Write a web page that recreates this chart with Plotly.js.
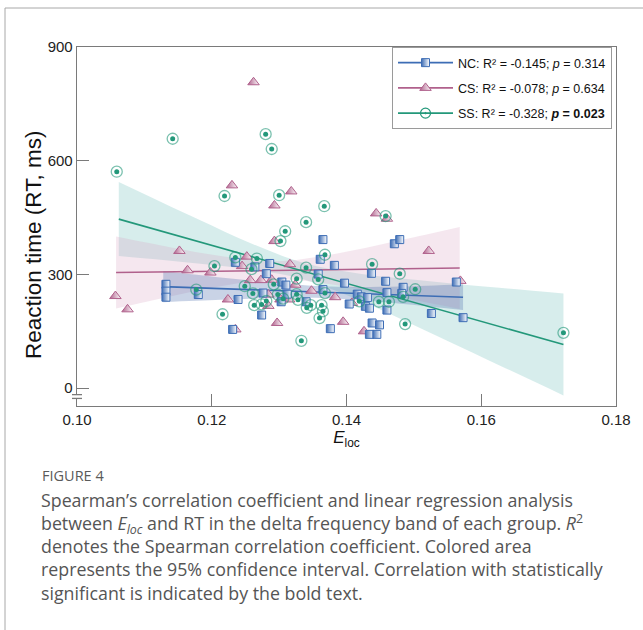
<!DOCTYPE html>
<html><head><meta charset="utf-8">
<script src="https://cdn.plot.ly/plotly-3.0.1.min.js"></script>
<style>html,body{margin:0;padding:0;background:#fff}#chart{width:643px;height:630px}</style>
</head><body><div id="chart"></div>
<script>
// ---------- data ----------
const ncX = [0.1132,0.1132,0.1132,0.1180,0.1235,0.1264,0.1286,0.1361,0.1365,0.1471,0.1479,0.1281,0.1358,0.1382,0.1437,0.1304,0.1310,0.1276,0.1365,0.1312,0.1397,0.1458,0.1484,0.1563,0.1482,0.1460,0.1416,0.1422,0.1431,0.1239,0.1303,0.1340,0.1404,0.1428,0.1434,0.1460,0.1526,0.1573,0.1274,0.1376,0.1231,0.1438,0.1449,0.1434,0.1445];
const ncY = [274,256,240,247,332,320,329,340,392,381,392,302,301,324,303,280,272,251,260,248,277,282,266,280,250,252,248,241,239,234,228,228,222,216,211,206,197,186,193,157,155,172,167,142,142];

const csX = [0.1262,0.1230,0.1318,0.1293,0.1444,0.1460,0.1293,0.1152,0.1252,0.1245,0.1522,0.1164,0.1198,0.1316,0.1257,0.1273,0.1289,0.1324,0.1284,0.1348,0.1569,0.1383,0.1224,0.1302,0.1315,0.1408,0.1284,0.1395,0.1297,0.1426,0.1235,0.1057,0.1075];
const csY = [807,535,519,482,461,447,388,362,347,322,362,311,305,327,285,285,286,273,247,257,283,240,234,234,234,225,217,175,172,150,155,243,208];

const ssX = [0.1059,0.1142,0.1280,0.1289,0.1219,0.1300,0.1367,0.1340,0.1309,0.1302,0.1235,0.1267,0.1204,0.1259,0.1368,0.1340,0.1438,0.1326,0.1358,0.1479,0.1249,0.1292,0.1177,0.1261,0.1368,0.1502,0.1298,0.1326,0.1281,0.1328,0.1306,0.1419,0.1448,0.1463,0.1484,0.1263,0.1274,0.1341,0.1347,0.1363,0.1365,0.1216,0.1360,0.1487,0.1333,0.1722,0.1458];
const ssY = [571,658,670,631,507,509,480,438,414,388,345,342,322,314,352,318,327,289,287,302,269,274,260,250,251,261,247,248,230,233,236,229,228,228,241,219,221,212,219,219,203,195,185,169,125,146,454];

// regression lines (end points)
const ncFitX = [0.1128,0.1573], ncFitY = [268,240];
const csFitX = [0.1058,0.1568], csFitY = [305,317];
const ssFitX = [0.1062,0.1722], ssFitY = [446,115];

// 95% confidence bands (read at several x positions)
const ncBandX  = [0.1128,0.1213,0.1302,0.1376,0.1480,0.1573];
const ncBandHi = [309,292,277,268,268,274];
const ncBandLo = [227,233,238,237,223,206];
const csBandX  = [0.1058,0.1138,0.1213,0.1296,0.1376,0.1480,0.1568];
const csBandHi = [400,372,349,335,352,390,425];
const csBandLo = [210,242,269,287,274,240,209];
const ssBandX  = [0.1062,0.1124,0.1183,0.1257,0.1337,0.1420,0.1509,0.1613,0.1722];
const ssBandHi = [544,492,443,383,330,302,285,267,250];
const ssBandLo = [349,339,328,313,287,231,159,72,-19];

const groupNames = [
  'NC: R² = -0.145; <i>p</i> = 0.314',
  'CS: R² = -0.078; <i>p</i> = 0.634',
  'SS: R² = -0.328; <b><i>p</i> = 0.023</b>'
];
const xTicks = [0.10,0.12,0.14,0.16,0.18];
const xTickLabels = ['0.10','0.12','0.14','0.16','0.18'];
const yTicks = [0,300,600,900];
const yTickLabels = ['0','300','600','900'];
const xTitle = '<i>E</i><sub>loc</sub>';
const yTitle = 'Reaction time (RT, ms)';

const captionTitle = 'FIGURE 4';
const captionLines = [
  'Spearman’s correlation coefficient and linear regression analysis',
  'between <i>E<sub>loc</sub></i> and RT in the delta frequency band of each group. <i>R</i><sup>2</sup>',
  'denotes the Spearman correlation coefficient. Colored area',
  'represents the 95% confidence interval. Correlation with statistically',
  'significant is indicated by the bold text.'
];

// ---------- styling ----------
const NC = '#3d6db5', CS = '#b0618c', SS = '#23987a';
const axisCol = '#7a7a7a';

const ncMarker = {symbol:'square', size:8, color:NC, gradient:{type:'horizontal', color:'#ffffff'}, line:{color:NC, width:1}};
const csMarker = {symbol:'triangle-up', size:10, color:CS, gradient:{type:'horizontal', color:'#ffffff'}, line:{color:CS, width:1}};
const ssLegendMarker = {symbol:'circle-open-dot', size:10, color:SS, line:{width:1.2}};
const ssRing = {symbol:'circle-open', size:11, color:'rgba(35,152,122,0.6)', line:{width:1.3}};
const ssDot  = {symbol:'circle', size:5, color:SS, line:{width:0}};

function band(x, lo, hi, fill) {
  return [
    {x:x, y:lo, mode:'lines', line:{width:0, shape:'spline'}, hoverinfo:'skip', showlegend:false},
    {x:x, y:hi, mode:'lines', line:{width:0, shape:'spline'}, fill:'tonexty', fillcolor:fill, hoverinfo:'skip', showlegend:false}
  ];
}
function fitLine(x, y, col, marker, name, grp) {
  return {x:x, y:y, mode:'lines+markers', name:name, legendgroup:grp, line:{color:col, width:1.6},
          marker:marker, selectedpoints:[], unselected:{marker:{opacity:0}}, hoverinfo:'skip'};
}
function pts(x, y, marker, grp) {
  return {x:x, y:y, mode:'markers', marker:marker, legendgroup:grp, showlegend:false};
}

const traces = [].concat(
  band(ssBandX, ssBandLo, ssBandHi, 'rgba(110,190,185,0.28)'),
  band(csBandX, csBandLo, csBandHi, 'rgba(215,160,190,0.25)'),
  band(ncBandX, ncBandLo, ncBandHi, 'rgba(90,120,180,0.33)'),
  [
    fitLine(ncFitX, ncFitY, NC, ncMarker, groupNames[0], 'nc'),
    fitLine(csFitX, csFitY, CS, csMarker, groupNames[1], 'cs'),
    fitLine(ssFitX, ssFitY, SS, ssLegendMarker, groupNames[2], 'ss'),
    pts(csX, csY, csMarker, 'cs'),
    pts(ncX, ncY, ncMarker, 'nc'),
    pts(ssX, ssY, ssRing, 'ss'),
    pts(ssX, ssY, ssDot, 'ss')
  ]
);

// pixel helpers for page-level decoration (outside the plot area)
const W = 643, H = 630, mL = 77, mR = 27, mT = 47, mB = 224;
const pw = W - mL - mR, ph = H - mT - mB;
const px2x = p => (p - mL) / pw;
const py2y = p => (H - mB - p) / ph;

const capFont = 'Open Sans, Noto Sans, sans-serif';
const annotations = [
  {text:yTitle, xref:'paper', yref:'paper', x:px2x(33), y:py2y(245), xanchor:'center', yanchor:'middle', textangle:-90,
   showarrow:false, font:{family:'Liberation Sans, Arial, sans-serif', size:22.5, color:'#111'}},
  {text:captionTitle, xref:'paper', yref:'paper', x:px2x(40), y:py2y(475), xanchor:'left', yanchor:'middle',
   showarrow:false, font:{family:capFont, size:14.5, color:'#5a5a5a'}},
  {text:captionLines.join('<br>'), xref:'paper', yref:'paper', x:px2x(39), y:py2y(486), xanchor:'left', yanchor:'top',
   align:'left', showarrow:false, font:{family:capFont, size:17.8, color:'#555555'}}
];

const shapes = [
  // page frame
  {type:'line', xref:'paper', yref:'paper', x0:px2x(5), x1:px2x(660), y0:py2y(8), y1:py2y(8), line:{color:'#a8a8a8', width:1}},
  {type:'line', xref:'paper', yref:'paper', x0:px2x(5), x1:px2x(5), y0:py2y(8), y1:py2y(640), line:{color:'#a8a8a8', width:1}},
  // y-axis break marks
  {type:'rect', xref:'paper', yref:'y', x0:px2x(72), x1:px2x(82), y0:-26, y1:-18, fillcolor:'#ffffff', line:{width:0}, layer:'above'},
  {type:'line', xref:'paper', yref:'y', x0:px2x(72), x1:px2x(82), y0:-17, y1:-17, line:{color:axisCol, width:1.3}, layer:'above'},
  {type:'line', xref:'paper', yref:'y', x0:px2x(72), x1:px2x(82), y0:-27, y1:-27, line:{color:axisCol, width:1.3}, layer:'above'}
];

const layout = {
  width:W, height:H,
  margin:{l:mL, r:mR, t:mT, b:mB, pad:0},
  paper_bgcolor:'#ffffff', plot_bgcolor:'#ffffff',
  font:{family:'Liberation Sans, Arial, sans-serif', color:'#222'},
  showlegend:true,
  legend:{x:px2x(612), xanchor:'right', y:1, yanchor:'top', bgcolor:'#ffffff', bordercolor:'#9a9a9a', borderwidth:1,
          font:{size:12.5, color:'#111'}, traceorder:'grouped', tracegroupgap:6, itemwidth:55},
  xaxis:{range:[0.10,0.18], tickvals:xTicks, ticktext:xTickLabels, ticks:'inside', ticklen:12, tickwidth:1.3, tickcolor:axisCol,
         showline:true, linecolor:axisCol, linewidth:1.3, mirror:true, showgrid:false, zeroline:false,
         tickfont:{size:15, color:'#222'},
         title:{text:xTitle, font:{size:17, color:'#111'}, standoff:3}},
  yaxis:{range:[-47,900], tickvals:yTicks, ticktext:yTickLabels, ticks:'inside', ticklen:12, tickwidth:1.3, tickcolor:axisCol,
         showline:true, linecolor:axisCol, linewidth:1.3, mirror:true, showgrid:false, zeroline:false,
         tickfont:{size:15, color:'#222'}},
  annotations:annotations,
  shapes:shapes
};

Plotly.newPlot('chart', traces, layout, {displayModeBar:false, staticPlot:true});
</script></body></html>
